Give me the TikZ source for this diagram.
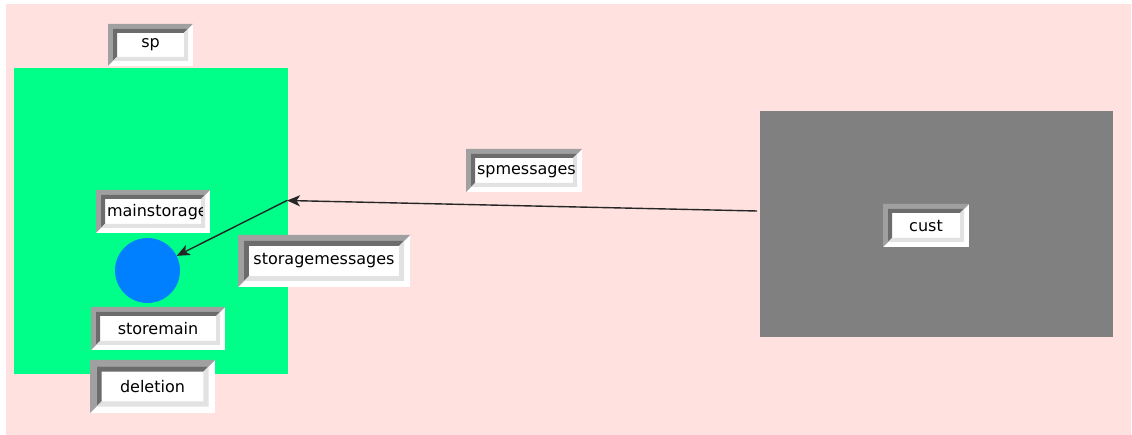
\documentclass[tikz,border=0pt]{standalone}
\usepackage{fontspec}
\setmainfont{DejaVu Sans}
\usetikzlibrary{arrows.meta,calc}

\definecolor{bgpink}{RGB}{255,226,223}
\definecolor{spgreen}{RGB}{0,255,136}
\definecolor{storeblue}{RGB}{0,128,255}
\definecolor{custgrey}{RGB}{128,128,128}
\definecolor{bvmid}{RGB}{160,160,160}
\definecolor{bvdark}{RGB}{108,108,108}
\definecolor{bvlight}{RGB}{226,226,226}

% bevel of a label box, #1 = width of the outer band
\newcommand\bevel[1]{%
  \pgfmathsetmacro\bvo{#1}\pgfmathsetmacro\bvi{1.8*#1}%
  \coordinate (bvA) at (path picture bounding box.south west);
  \coordinate (bvB) at (path picture bounding box.north east);
  \fill[bvmid] let \p1=(bvA), \p2=(bvB) in (\x1,\y1) -- (\x1,\y2) -- (\x2,\y2)
    -- (\x2-\bvo*1pt,\y2-\bvo*1pt) -- (\x1+\bvo*1pt,\y2-\bvo*1pt) -- (\x1+\bvo*1pt,\y1+\bvo*1pt) -- cycle;
  \fill[bvdark] let \p1=(bvA), \p2=(bvB) in (\x1+\bvo*1pt,\y1+\bvo*1pt) -- (\x1+\bvo*1pt,\y2-\bvo*1pt)
    -- (\x2-\bvo*1pt,\y2-\bvo*1pt) -- (\x2-\bvi*1pt,\y2-\bvi*1pt) -- (\x1+\bvi*1pt,\y2-\bvi*1pt)
    -- (\x1+\bvi*1pt,\y1+\bvi*1pt) -- cycle;
  \fill[bvlight] let \p1=(bvA), \p2=(bvB) in (\x1+\bvo*1pt,\y1+\bvo*1pt) -- (\x2-\bvo*1pt,\y1+\bvo*1pt)
    -- (\x2-\bvo*1pt,\y2-\bvo*1pt) -- (\x2-\bvi*1pt,\y2-\bvi*1pt) -- (\x2-\bvi*1pt,\y1+\bvi*1pt)
    -- (\x1+\bvi*1pt,\y1+\bvi*1pt) -- cycle;
}

% text that runs past the right side of its label box
\newcommand\cuttext[3]{%
  \begin{scope}
    \clip ([xshift=9pt,yshift=-9pt]#1.north west) rectangle ([xshift=-8pt,yshift=9pt]#1.south east);
    \node[lbltext, anchor=west] (#2) at ([xshift=11pt,yshift=-1pt]#1.west) {#3};
  \end{scope}
}

\tikzset{
  lbltext/.style={inner sep=0pt, font=\fontsize{16}{18}\selectfont},
  lbl/.style={rectangle, fill=white, inner sep=0pt, font=\fontsize{16}{18}\selectfont,
    path picture={\bevel{#1}}},
  lbl/.default=5,
  flow/.style={draw=black!85, line width=1.4pt, -{Stealth[length=13pt,width=11pt,inset=3.5pt]}},
}

\begin{document}
\begin{tikzpicture}[x=1pt,y=-1pt]
  \useasboundingbox (0,0) rectangle (1132,435);
  \fill[bgpink] (6,4) rectangle (1131,435);

  % system blocks
  \node[fill=spgreen, minimum width=274pt, minimum height=306pt, inner sep=0pt] (sp) at (151,221) {};
  \node[fill=custgrey, minimum width=353pt, minimum height=226pt, inner sep=0pt] (cust) at (936.5,224) {};
  \node[circle, fill=storeblue, minimum size=65pt, inner sep=0pt] (store) at (147.5,270.5) {};

  % ports
  \coordinate (spport) at (287,200.5);
  \coordinate (custport) at (757,211);

  % labels
  \node[lbl, minimum width=85pt, minimum height=42pt] (splbl) at (150.5,45) {sp};
  \node[lbl, minimum width=86pt, minimum height=43pt] (custlbl) at (926,225.5) {cust};
  \node[lbl, minimum width=114pt, minimum height=43pt] (mainlbl) at (153,211.5) {};
  \cuttext{mainlbl}{maintxt}{mainstorage}
  \node[lbl, minimum width=116pt, minimum height=43pt] (spmsglbl) at (524,170.5) {};
  \cuttext{spmsglbl}{spmsgtxt}{spmessages}
  \node[lbl=6, minimum width=172pt, minimum height=52pt] (storagelbl) at (324,261) {storagemessages};
  \node[lbl, minimum width=134pt, minimum height=43pt] (storemainlbl) at (158,328.5) {storemain};
  \node[lbl=6.5, minimum width=125pt, minimum height=53pt] (deletionlbl) at (152.5,386.5) {deletion};

  % connectors
  \draw[flow] (custport) -- (spport);
  \draw[flow] (spport) -- (store);
\end{tikzpicture}
\end{document}
